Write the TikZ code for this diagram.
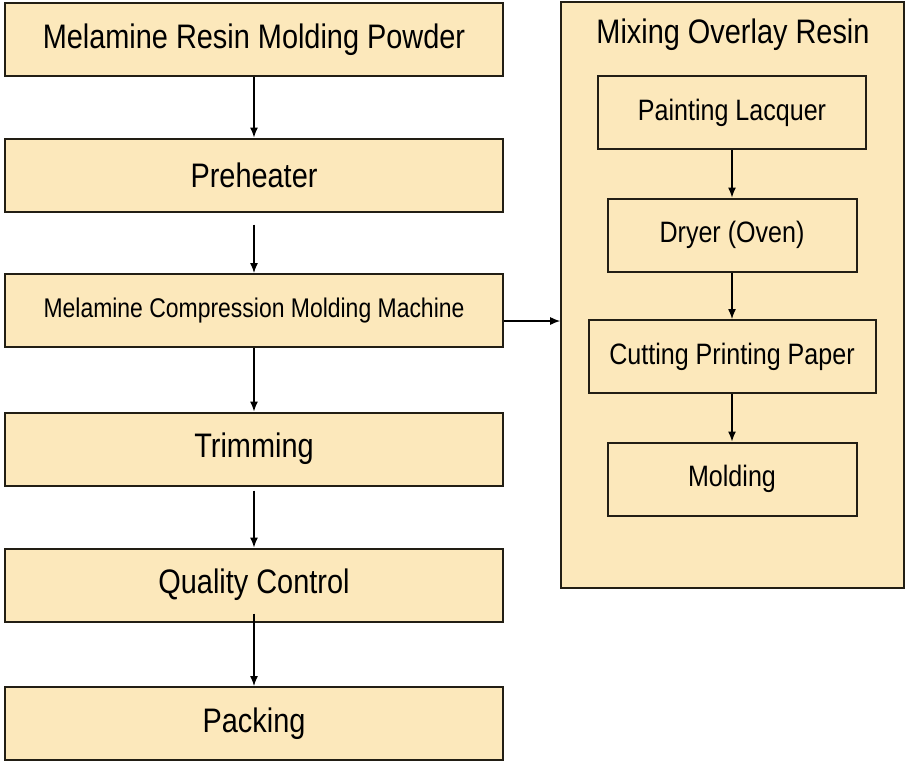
\documentclass[tikz,border=0pt]{standalone}
\usepackage{fontspec}
\setmainfont{Liberation Sans}[FakeStretch=0.85]
\usetikzlibrary{arrows.meta}
\definecolor{boxfill}{RGB}{252,232,187}
\definecolor{edge}{RGB}{34,30,20}
\begin{document}
\begin{tikzpicture}[x=1pt, y=-1pt,
    stage/.style={draw=edge, fill=boxfill, line width=2pt, inner sep=0pt,
        minimum width=498pt, minimum height=73pt, font=\fontsize{34}{40}\selectfont},
    substage/.style={draw=edge, fill=boxfill, line width=2pt, inner sep=0pt,
        minimum height=73pt, font=\fontsize{29.5}{35}\selectfont},
    flow/.style={-{Latex[length=10pt,width=8pt]}, line width=1.3pt, draw=black}]
    \useasboundingbox (0,0) rectangle (906,761);
    % main line
    \node[stage] (m1) at (254,39.5) {Melamine Resin Molding Powder};
    \node[stage] (m2) at (254,175) {Preheater};
    \node[stage, font=\fontsize{27}{32}\selectfont] (m3) at (254,310.5) {Melamine Compression Molding Machine};
    \node[stage] (m4) at (254,449) {Trimming};
    \node[stage] (m5) at (254,585) {Quality Control};
    \node[stage] (m6) at (254,723.5) {Packing};
    % overlay branch
    \node[draw=edge, fill=boxfill, line width=1.6pt, inner sep=0pt,
        minimum width=343pt, minimum height=586pt] (mix) at (732.5,295) {};
    \node[font=\fontsize{34}{40}\selectfont] (mixtitle) at (733,35) {Mixing Overlay Resin};
    \node[substage, minimum width=268pt] (p1) at (732,112.5) {Painting Lacquer};
    \node[substage, minimum width=249pt] (p2) at (732,235) {Dryer (Oven)};
    \node[substage, minimum width=287pt] (p3) at (732,356.5) {Cutting Printing Paper};
    \node[substage, minimum width=249pt] (p4) at (732,479) {Molding};
    \draw[flow] (m1) -- (m2);
    \draw[flow, shorten <=12pt] (m2) -- (m3);
    \draw[flow] (m3) -- (m4);
    \draw[flow, shorten <=4pt] (m4) -- (m5);
    \draw[flow, shorten <=-9pt] (m5) -- (m6);
    \draw[flow] ([yshift=-10.5pt]m3.east) -- ([yshift=-10.5pt]m3.east -| mix.west);
    \draw[flow] (p1) -- (p2);
    \draw[flow] (p2) -- (p3);
    \draw[flow] (p3) -- (p4);
\end{tikzpicture}
\end{document}
